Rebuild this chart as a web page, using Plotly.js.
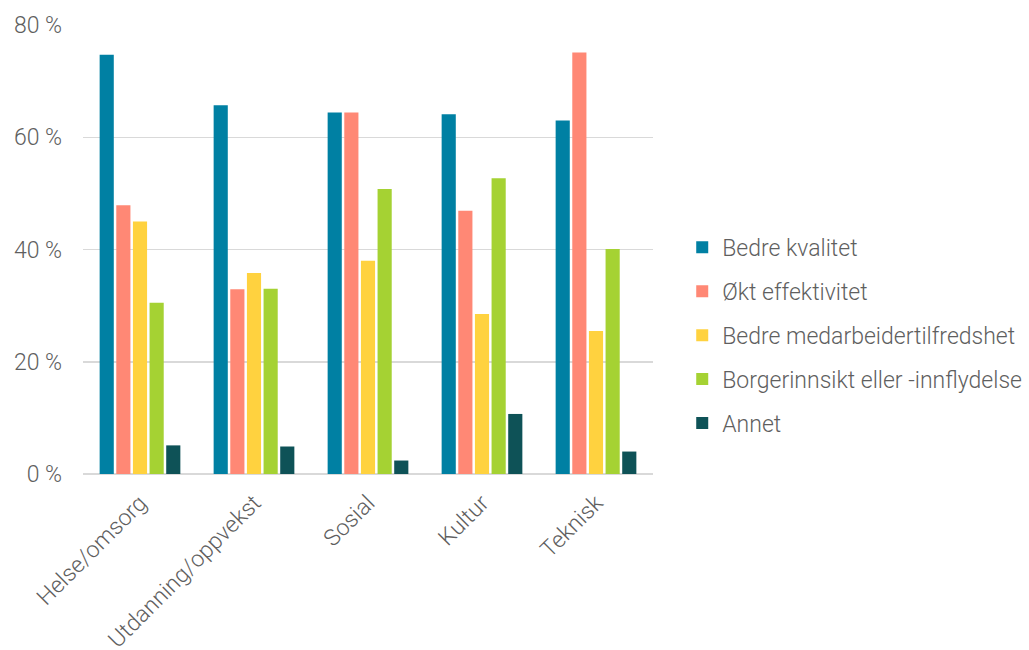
<!DOCTYPE html>
<html>
<head>
<meta charset="utf-8">
<script src="https://cdn.plot.ly/plotly-3.0.1.min.js"></script>
<style>html,body{margin:0;padding:0;background:#fff;}#chart{width:1029px;height:650px;}</style>
</head>
<body>
<div id="chart"></div>
<script>
const categories = ["Helse/omsorg", "Utdanning/oppvekst", "Sosial", "Kultur", "Teknisk"];
const seriesNames = ["Bedre kvalitet", "Økt effektivitet", "Bedre medarbeidertilfredshet", "Borgerinnsikt eller -innflydelse", "Annet"];
const bedreKvalitet = [74.7, 65.7, 64.4, 64.1, 63.0];
const oktEffektivitet = [47.9, 32.9, 64.4, 46.9, 75.1];
const medarbeidertilfredshet = [45.0, 35.8, 38.0, 28.5, 25.5];
const borgerinnsikt = [30.5, 33.0, 50.8, 52.7, 40.1];
const annet = [5.1, 4.9, 2.4, 10.7, 4.0];
const colors = ["#0080A3", "#FF8875", "#FFD23F", "#A5D233", "#0E5257"];
const yTicks = [0, 20, 40, 60, 80];

const allValues = [bedreKvalitet, oktEffektivitet, medarbeidertilfredshet, borgerinnsikt, annet];
const font = {family: "Roboto", weight: 300, color: "#5f5f5f"};

const traces = allValues.map((vals, i) => ({
  type: "bar",
  name: seriesNames[i],
  x: categories,
  y: vals,
  legendgroup: "g" + i,
  marker: {color: colors[i], line: {width: 0}},
  hoverinfo: "x+y+name"
}));

const layout = {
  width: 1029,
  height: 650,
  margin: {l: 83, r: 376, t: 25, b: 176},
  paper_bgcolor: "#ffffff",
  plot_bgcolor: "#ffffff",
  barmode: "group",
  bargap: 0.27,
  bargroupgap: 0.15,
  font: Object.assign({size: 23}, font),
  xaxis: {
    type: "category",
    tickangle: -45,
    tickfont: Object.assign({size: 23}, font),
    showgrid: false,
    showline: false,
    ticks: "",
    ticklabelstandoff: 10,
    automargin: false
  },
  yaxis: {
    range: [0, 80],
    tickvals: yTicks,
    ticktext: yTicks.map(v => v + " %"),
    tickfont: Object.assign({size: 23}, font),
    showgrid: true,
    gridcolor: "#d9d9d9",
    gridwidth: 1.5,
    zeroline: true,
    zerolinecolor: "#d9d9d9",
    zerolinewidth: 1.5,
    showline: false,
    ticks: "",
    ticklabelstandoff: 20,
    automargin: false
  },
  legend: {
    xref: "container",
    yref: "container",
    x: 0.663,
    xanchor: "left",
    y: 0.484,
    yanchor: "middle",
    font: Object.assign({size: 23}, font),
    tracegroupgap: 11,
    bgcolor: "rgba(0,0,0,0)"
  },
  showlegend: true
};

Plotly.newPlot("chart", traces, layout, {displayModeBar: false, staticPlot: true});
</script>
</body>
</html>
